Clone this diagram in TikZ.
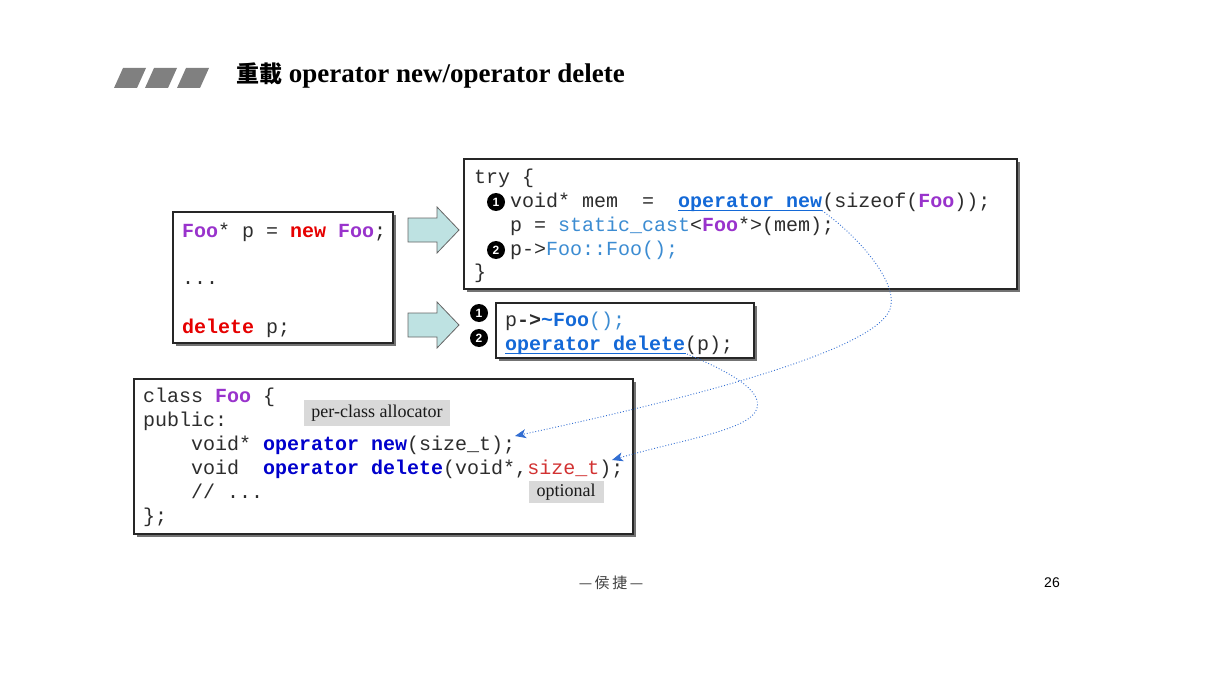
\documentclass[tikz,border=0pt]{standalone}
\usepackage{fontspec}
\setmainfont{Liberation Serif}
\newfontfamily\codefont{Liberation Mono}
\newfontfamily\cjkfont{Noto Sans CJK TC}
\newfontfamily\numfont{Liberation Sans}
\usetikzlibrary{arrows.meta,shadows}
\definecolor{fooP}{RGB}{153,51,204}
\definecolor{kwR}{RGB}{230,0,0}
\definecolor{opB}{RGB}{20,105,215}
\definecolor{ltB}{RGB}{60,140,210}
\definecolor{dkB}{RGB}{0,0,204}
\definecolor{szR}{RGB}{210,50,50}
\definecolor{linkB}{RGB}{50,110,210}
\definecolor{arrF}{RGB}{190,226,226}
\definecolor{lblG}{RGB}{217,217,217}
\definecolor{txtG}{RGB}{45,45,45}
\newcommand\cP[1]{\textcolor{fooP}{\bfseries #1}}
\newcommand\cR[1]{\textcolor{kwR}{\bfseries #1}}
\newcommand\cB[1]{\textcolor{opB}{\bfseries #1}}
\newcommand\cL[1]{\textcolor{ltB}{#1}}
\newcommand\cD[1]{\textcolor{dkB}{\bfseries #1}}
\newcommand\cS[1]{\textcolor{szR}{#1}}
\begin{document}
\begin{tikzpicture}[x=1pt,y=-1pt,
  code/.style={anchor=base west, inner sep=0pt, text=txtG, font=\codefont\fontsize{20}{24}\selectfont},
  codebox/.style={draw=black!85, line width=1.3pt, fill=white, inner sep=0pt,
    drop shadow={shadow xshift=3pt, shadow yshift=-3pt, fill=black!55, opacity=1}},
  bul/.style={circle, fill=black, text=white, inner sep=0pt, minimum size=18pt,
    font=\numfont\bfseries\fontsize{12}{12}\selectfont},
  lbl/.style={fill=lblG, inner sep=0pt, font=\fontsize{18}{20}\selectfont, text=black!90},
  blockarrow/.style={fill=arrF, draw=black!60, line width=0.8pt, line join=miter},
  para/.style={fill=black!50, draw=none},
  conn/.style={draw=linkB, dotted, line width=0.9pt, -{Stealth[length=11pt,width=9pt,inset=3pt]}},
  uline/.style={draw=opB, line width=1pt}]
\useasboundingbox (0,0) rectangle (1213,674);

% title
\fill[para] (114,88) -- (123,68) -- (146,68) -- (137,88) -- cycle;
\fill[para] (145,88) -- (154,68) -- (177,68) -- (168,88) -- cycle;
\fill[para] (177,88) -- (186,68) -- (209,68) -- (200,88) -- cycle;
\node[anchor=base west, inner sep=0pt, font=\bfseries\fontsize{27}{30}\selectfont] (title) at (236,83)
  {{\cjkfont\fontsize{23}{28}\selectfont 重載} operator new/operator delete};

% left box
\node[codebox, minimum width=220pt, minimum height=131pt] (foobox) at (283,277.5) {};
\node[code] (f1) at (182,237) {\cP{Foo}* p = \cR{new} \cP{Foo};};
\node[code] (f2) at (182,284) {...};
\node[code] (f3) at (182,333) {\cR{delete} p;};

% block arrows
\path[blockarrow] (408,218) -- (437,218) -- (437,207) -- (459,230) -- (437,253) -- (437,242) -- (408,242) -- cycle;
\path[blockarrow] (408,313) -- (437,313) -- (437,302) -- (459,325) -- (437,348) -- (437,337) -- (408,337) -- cycle;

% try box
\node[codebox, minimum width=553pt, minimum height=130pt] (trybox) at (740.5,224) {};
\node[code] (t0) at (474,183) {try \{};
\node[code] (t1) at (510,207) {void* mem\ \ =\ \ \cB{operator new}(sizeof(\cP{Foo}));};
\node[code] (t2) at (510,231) {p = \cL{static\_cast}<\cP{Foo}*>(mem);};
\node[code] (t3) at (510,255) {p->\cL{Foo::Foo();}};
\node[code] (t4) at (474,278) {\}};
\node[bul] (b1) at (496,202) {1};
\node[bul] (b2) at (496,250) {2};
\draw[uline] (678,210.5) -- (822,210.5);

% delete box
\node[codebox, minimum width=258pt, minimum height=55pt] (delbox) at (625,330.5) {};
\node[code] (d1) at (505,326) {p\textbf{->}\cB{\textasciitilde Foo}\cL{();}};
\node[code] (d2) at (505,350) {\cB{operator delete}(p);};
\draw[uline] (505,353.5) -- (686,353.5);
\node[bul] (b3) at (479,313) {1};
\node[bul] (b4) at (479,338) {2};

% class box
\node[codebox, minimum width=499pt, minimum height=155pt] (classbox) at (383.5,456.5) {};
\node[code] (c1) at (143,402) {class \cP{Foo} \{};
\node[code] (c2) at (143,426) {public:};
\node[code] (c3) at (191,450) {void* \cD{operator new}(size\_t);};
\node[code] (c4) at (191,474) {void\ \ \cD{operator delete}(void*,\cS{size\_t});};
\node[code] (c5) at (191,498) {// ...};
\node[code] (c6) at (143,522) {\};};
\node[lbl, minimum width=146pt, minimum height=26pt] (pca) at (377,413) {per-class allocator};
\node[lbl, minimum width=75pt, minimum height=22pt] (opt) at (566,492) {optional};

% connectors
\coordinate (newEnd) at (822,210.5);
\coordinate (newMid) at (891,305);
\coordinate (newTgt) at (515,436);
\coordinate (delEnd) at (687,354);
\coordinate (delMid) at (757,408);
\coordinate (delTgt) at (612,460);
\draw[conn] (newEnd) .. controls (860,238) and (895,280) .. (newMid)
  .. controls (887,345) and (720,392) .. (newTgt);
\draw[conn] (delEnd) .. controls (730,372) and (762,390) .. (delMid)
  .. controls (752,430) and (680,440) .. (delTgt);

% footer
\node[inner sep=0pt, text=black!75, font=\cjkfont\fontsize{15}{17}\selectfont] (author) at (611,583) {—\,侯\,捷\,—};
\node[inner sep=0pt, text=black, font=\numfont\fontsize{14}{16}\selectfont] (page) at (1052,583) {26};
\end{tikzpicture}
\end{document}
